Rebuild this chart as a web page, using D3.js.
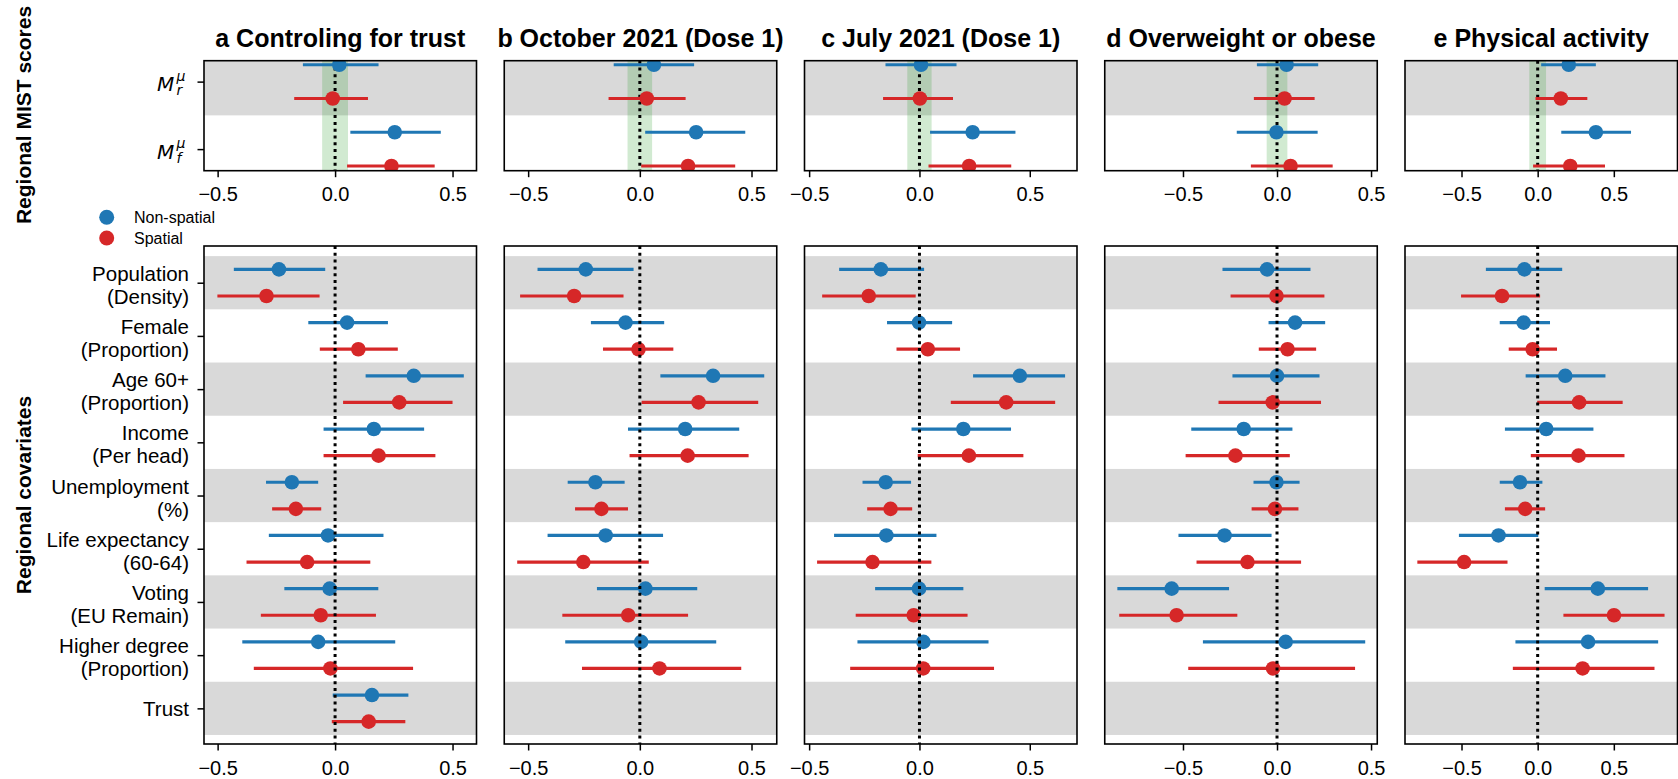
<!DOCTYPE html>
<html>
<head>
<meta charset="utf-8">
<script src="https://cdn.jsdelivr.net/npm/d3@7"></script>
<style>
  body { margin: 0; background: #fff; }
  svg { display: block; font-family: "Liberation Sans", Arial, sans-serif; }
</style>
</head>
<body>
<svg id="chart" width="1678" height="779"></svg>
<script>
const panelTitles = ["a Controling for trust", "b October 2021 (Dose 1)", "c July 2021 (Dose 1)",
  "d Overweight or obese", "e Physical activity"]
const mistSubscripts = ["r", "f"]
const covariateLabels = [
  ["Population", "(Density)"], ["Female", "(Proportion)"], ["Age 60+", "(Proportion)"],
  ["Income", "(Per head)"], ["Unemployment", "(%)"], ["Life expectancy", "(60-64)"],
  ["Voting", "(EU Remain)"], ["Higher degree", "(Proportion)"], ["Trust"]
]
const seriesNames = ["Non-spatial", "Spatial"]
const seriesColors = ["#1f77b4", "#d62728"]
const xTicks = [-0.5, 0, 0.5]
const xLimits = [[-0.558, 0.602], [-0.607, 0.613], [-0.521, 0.714], [-0.916, 0.533], [-0.871, 0.918]]

// [estimate, lower, upper] per panel, rows M_r then M_f
const mistNonSpatial = [
  [[0.018, -0.137, 0.185], [0.254, 0.065, 0.45]],
  [[0.063, -0.117, 0.243], [0.252, 0.024, 0.472]],
  [[0.007, -0.154, 0.168], [0.241, 0.048, 0.435]],
  [[0.051, -0.107, 0.219], [-0.003, -0.214, 0.216]],
  [[0.204, 0.023, 0.382], [0.382, 0.155, 0.613]]
]
const mistSpatial = [
  [[-0.01, -0.174, 0.14], [0.24, 0.051, 0.424]],
  [[0.031, -0.14, 0.205], [0.216, 0.006, 0.427]],
  [[0.002, -0.165, 0.152], [0.225, 0.041, 0.416]],
  [[0.04, -0.123, 0.2], [0.072, -0.139, 0.296]],
  [[0.152, -0.014, 0.326], [0.214, -0.03, 0.442]]
]

// [estimate, lower, upper] per panel, rows in covariateLabels order
const covNonSpatial = [
  [[-0.239, -0.431, -0.042], [0.051, -0.114, 0.225], [0.335, 0.13, 0.548], [0.165, -0.049, 0.379],
   [-0.184, -0.294, -0.072], [-0.03, -0.282, 0.206], [-0.023, -0.216, 0.184], [-0.072, -0.395, 0.256],
   [0.157, -0.01, 0.312]],
  [[-0.242, -0.458, -0.028], [-0.064, -0.219, 0.109], [0.328, 0.092, 0.557], [0.203, -0.053, 0.445],
   [-0.199, -0.323, -0.068], [-0.153, -0.413, 0.104], [0.025, -0.192, 0.257], [0.006, -0.334, 0.342], null],
  [[-0.175, -0.364, 0.021], [-0.002, -0.147, 0.148], [0.455, 0.243, 0.66], [0.199, -0.036, 0.415],
   [-0.153, -0.258, -0.038], [-0.15, -0.387, 0.077], [-0.002, -0.201, 0.199], [0.018, -0.281, 0.313], null],
  [[-0.053, -0.29, 0.178], [0.096, -0.045, 0.256], [0.0, -0.237, 0.226], [-0.177, -0.456, 0.082],
   [-0.003, -0.125, 0.12], [-0.279, -0.524, -0.029], [-0.56, -0.849, -0.255], [0.046, -0.394, 0.469], null],
  [[-0.087, -0.34, 0.161], [-0.092, -0.249, 0.081], [0.181, -0.079, 0.445], [0.056, -0.215, 0.366],
   [-0.116, -0.249, 0.031], [-0.257, -0.517, 0.004], [0.395, 0.046, 0.725], [0.331, -0.146, 0.791], null]
]
const covSpatial = [
  [[-0.292, -0.501, -0.066], [0.099, -0.065, 0.267], [0.273, 0.034, 0.5], [0.185, -0.049, 0.427],
   [-0.167, -0.268, -0.059], [-0.119, -0.377, 0.15], [-0.061, -0.316, 0.174], [-0.02, -0.346, 0.332],
   [0.143, -0.014, 0.299]],
  [[-0.294, -0.536, -0.073], [-0.006, -0.165, 0.15], [0.263, 0.008, 0.53], [0.214, -0.046, 0.487],
   [-0.172, -0.29, -0.053], [-0.253, -0.549, 0.04], [-0.052, -0.347, 0.216], [0.088, -0.259, 0.454], null],
  [[-0.23, -0.441, -0.017], [0.038, -0.104, 0.184], [0.393, 0.142, 0.615], [0.224, -0.008, 0.471],
   [-0.131, -0.237, -0.033], [-0.213, -0.464, 0.054], [-0.026, -0.289, 0.218], [0.017, -0.314, 0.338], null],
  [[-0.003, -0.247, 0.252], [0.056, -0.097, 0.208], [-0.023, -0.311, 0.234], [-0.221, -0.486, 0.068],
   [-0.011, -0.135, 0.114], [-0.157, -0.428, 0.128], [-0.534, -0.839, -0.211], [-0.021, -0.472, 0.415], null],
  [[-0.234, -0.503, 0.016], [-0.033, -0.19, 0.127], [0.272, -0.003, 0.558], [0.268, -0.045, 0.57],
   [-0.082, -0.215, 0.049], [-0.483, -0.79, -0.198], [0.501, 0.169, 0.833], [0.295, -0.163, 0.767], null]
]

const svg = d3.select("#chart")
const left0 = 204, step = 300.25, panelW = 272.5
const topBox = { y0: 60.7, y1: 170.7, dom: [-0.31, 1.32] }
const botBox = { y0: 246, y1: 744, dom: [-0.69, 8.67] }
const defs = svg.append("defs")
const fmt = d3.format(".1f")
const sansFont = "'Liberation Sans', Arial, sans-serif"
const mathFont = "'DejaVu Sans', sans-serif"

function drawPanel(p, x, box, rowsNs, rowsSp, isTop) {
  const y = d3.scaleLinear().domain(box.dom).range([box.y0, box.y1])
  const n = rowsNs.length
  const id = `clip-${p}-${isTop ? "t" : "b"}`
  defs.append("clipPath").attr("id", id).append("rect")
    .attr("x", x.range()[0]).attr("y", box.y0)
    .attr("width", panelW).attr("height", box.y1 - box.y0)
  const g = svg.append("g").attr("clip-path", `url(#${id})`)

  // alternating grey bands
  g.selectAll("rect.band")
    .data(d3.range(0, n, 2))
    .join("rect")
    .attr("x", x.range()[0])
    .attr("width", panelW)
    .attr("y", i => y(i - 0.5))
    .attr("height", i => y(i + 0.5) - y(i - 0.5))
    .attr("fill", "#d9d9d9")

  if (isTop) {
    g.append("rect")
      .attr("x", x(-0.055)).attr("width", x(0.055) - x(-0.055))
      .attr("y", box.y0).attr("height", box.y1 - box.y0)
      .attr("fill", "#2ca02c").attr("fill-opacity", 0.22)
  }

  const zeroLine = () => g.append("line")
    .attr("x1", x(0)).attr("x2", x(0))
    .attr("y1", box.y0).attr("y2", box.y1)
    .attr("stroke", "#000").attr("stroke-width", 3)
    .attr("stroke-dasharray", "3,3.8")

  if (isTop) zeroLine()

  ;[rowsNs, rowsSp].forEach((rows, s) => {
    const off = s === 0 ? -0.25 : 0.25
    const pts = rows.map((r, i) => r && { v: r, i }).filter(Boolean)
    g.selectAll(null).data(pts).join("line")
      .attr("x1", d => x(d.v[1])).attr("x2", d => x(d.v[2]))
      .attr("y1", d => y(d.i + off)).attr("y2", d => y(d.i + off))
      .attr("stroke", seriesColors[s]).attr("stroke-width", 3.2)
    g.selectAll(null).data(pts).join("circle")
      .attr("cx", d => x(d.v[0])).attr("cy", d => y(d.i + off))
      .attr("r", 7.3).attr("fill", seriesColors[s])
  })

  if (!isTop) zeroLine()

  // x axis
  const ax = svg.append("g")
    .attr("transform", `translate(0,${box.y1})`)
    .call(d3.axisBottom(x).tickValues(xTicks).tickFormat(fmt).tickSize(6.5).tickPadding(10))
  ax.select(".domain").remove()
  ax.selectAll(".tick line").attr("stroke", "#000").attr("stroke-width", 1.5)
  ax.selectAll(".tick text").attr("fill", "#000").attr("font-size", 20)
    .attr("font-family", sansFont)

  // y axis only on first panel
  if (p === 0) {
    const ay = svg.append("g")
      .attr("transform", `translate(${x.range()[0]},0)`)
      .call(d3.axisLeft(y).tickValues(d3.range(n)).tickFormat("").tickSize(6.5))
    ay.select(".domain").remove()
    ay.selectAll(".tick line").attr("stroke", "#000").attr("stroke-width", 1.5)
    ay.selectAll(".tick text").remove()
    ay.selectAll(".tick").each(function (i) {
      const t = d3.select(this)
      if (isTop) {
        // M with stacked superscript mu and subscript r / f
        const txt = t.append("text").attr("text-anchor", "start").attr("fill", "#000")
          .attr("font-family", mathFont).attr("font-style", "italic")
        txt.append("tspan").attr("x", -47).attr("y", 9).attr("font-size", 20).text("M")
        txt.append("tspan").attr("x", -27.5).attr("y", -1.5).attr("font-size", 14).text("\u03bc")
        txt.append("tspan").attr("x", -27.5).attr("y", 13).attr("font-size", 14).text(mistSubscripts[i])
      } else {
        const lines = covariateLabels[i]
        const txt = t.append("text").attr("text-anchor", "end").attr("font-size", 20.5)
          .attr("fill", "#000").attr("font-family", sansFont)
        if (lines.length === 1) {
          txt.append("tspan").attr("x", -15).attr("y", 7).text(lines[0])
        } else {
          txt.append("tspan").attr("x", -15).attr("y", -2.5).text(lines[0])
          txt.append("tspan").attr("x", -15).attr("y", 20.5).text(lines[1])
        }
      }
    })
  }

  // frame
  svg.append("rect")
    .attr("x", x.range()[0]).attr("y", box.y0)
    .attr("width", panelW).attr("height", box.y1 - box.y0)
    .attr("fill", "none").attr("stroke", "#000").attr("stroke-width", 1.6)
}

panelTitles.forEach((title, p) => {
  const x0 = left0 + p * step
  const x = d3.scaleLinear().domain(xLimits[p]).range([x0, x0 + panelW])
  drawPanel(p, x, topBox, mistNonSpatial[p], mistSpatial[p], true)
  drawPanel(p, x, botBox, covNonSpatial[p], covSpatial[p], false)
  svg.append("text")
    .attr("x", x0 + panelW / 2).attr("y", 47)
    .attr("text-anchor", "middle")
    .attr("font-size", 25).attr("font-weight", "bold")
    .text(title)
})

// row group titles
;[["Regional MIST scores", 115], ["Regional covariates", 495]].forEach(([label, cy]) => {
  svg.append("text")
    .attr("transform", `translate(31,${cy}) rotate(-90)`)
    .attr("text-anchor", "middle")
    .attr("font-size", 21).attr("font-weight", "bold")
    .text(label)
})

// legend
const legend = svg.append("g")
seriesNames.forEach((name, s) => {
  const ly = 217.3 + s * 20.7
  legend.append("circle").attr("cx", 106.7).attr("cy", ly).attr("r", 7.5).attr("fill", seriesColors[s])
  legend.append("text").attr("x", 134).attr("y", ly + 5.5).attr("font-size", 16).text(name)
})
</script>
</body>
</html>
